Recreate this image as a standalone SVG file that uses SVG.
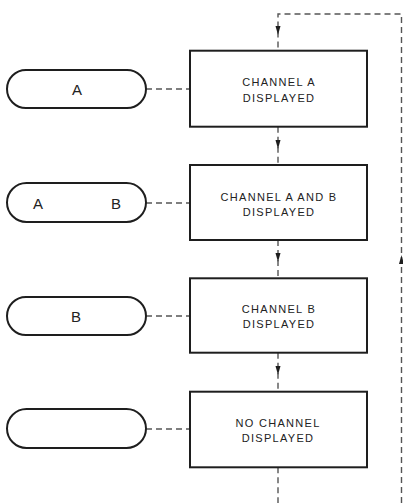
<svg xmlns="http://www.w3.org/2000/svg" width="403" height="503" viewBox="0 0 403 503">
<style>
.box{fill:#fff;stroke:#1e1e1e;stroke-width:2}
.pill{fill:#fff;stroke:#1e1e1e;stroke-width:2}
.dash{fill:none;stroke:#555;stroke-width:1.4;stroke-dasharray:6,4}
.ah{fill:#1e1e1e}
.t{font-family:"Liberation Sans",Arial,sans-serif;font-size:11px;letter-spacing:1.3px;fill:#222;text-anchor:middle}
.p{font-family:"Liberation Sans",Arial,sans-serif;font-size:15px;fill:#222;text-anchor:middle}
</style>
<defs>
<path id="arr" d="M0,0 L-2.5,-9 L2.5,-9 Z"/>
</defs>
<rect width="403" height="503" fill="#fff"/>
<g id="connectors">
<path class="dash" d="M401.5,503 V14 H278 V50.7"/>
<path class="dash" d="M278,126.7 V165"/>
<path class="dash" d="M278,240 V278.3"/>
<path class="dash" d="M278,352.7 V391.7"/>
<path class="dash" d="M278,467.3 V503"/>
<path class="dash" d="M146,89 H190"/>
<path class="dash" d="M146,203 H190"/>
<path class="dash" d="M146,316 H190"/>
<path class="dash" d="M146,429 H190"/>
<use href="#arr" class="ah" transform="translate(278,35)"/>
<use href="#arr" class="ah" transform="translate(278,149)"/>
<use href="#arr" class="ah" transform="translate(278,262)"/>
<use href="#arr" class="ah" transform="translate(278,375)"/>
<use href="#arr" class="ah" transform="translate(401.5,255) rotate(180)"/>
</g>
<g id="box1">
<rect class="box" x="190" y="50.7" width="177" height="76"/>
<text class="t" x="279" y="86">CHANNEL A</text>
<text class="t" x="279" y="102.3">DISPLAYED</text>
</g>
<g id="box2">
<rect class="box" x="190" y="165" width="177" height="75"/>
<text class="t" x="279" y="200.5">CHANNEL A AND B</text>
<text class="t" x="279" y="215.5">DISPLAYED</text>
</g>
<g id="box3">
<rect class="box" x="190" y="278.3" width="177" height="74.4"/>
<text class="t" x="279" y="313.3">CHANNEL B</text>
<text class="t" x="279" y="328.3">DISPLAYED</text>
</g>
<g id="box4">
<rect class="box" x="190" y="391.7" width="177" height="75.6"/>
<text class="t" x="278" y="426.7">NO CHANNEL</text>
<text class="t" x="278" y="441.7">DISPLAYED</text>
</g>
<g id="pill1">
<rect class="pill" x="7" y="70" width="139" height="38" rx="19"/>
<text class="p" x="77" y="94.5">A</text>
</g>
<g id="pill2">
<rect class="pill" x="7" y="183" width="139" height="39" rx="19.5"/>
<text class="p" x="38" y="208.5">A</text>
<text class="p" x="116" y="208.5">B</text>
</g>
<g id="pill3">
<rect class="pill" x="7" y="297" width="139" height="38" rx="19"/>
<text class="p" x="76" y="321.5">B</text>
</g>
<g id="pill4">
<rect class="pill" x="7" y="409" width="139" height="39" rx="19.5"/>
</g>
</svg>
